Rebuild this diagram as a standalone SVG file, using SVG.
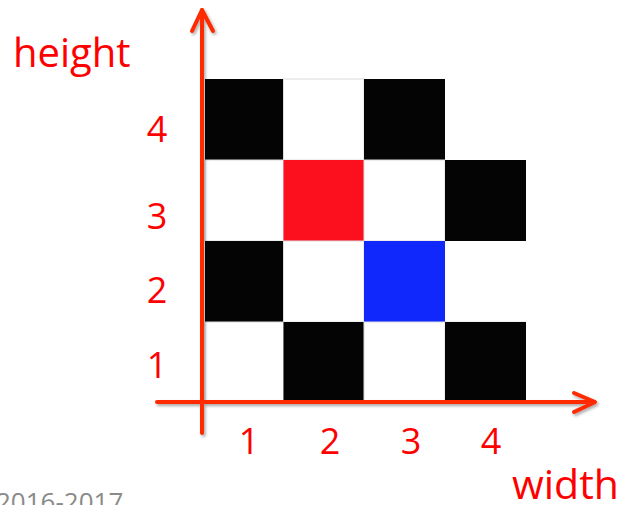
<svg xmlns="http://www.w3.org/2000/svg" width="621" height="505" viewBox="0 0 621 505">
  <style>
    .blk { fill: #040404; }
    .wht { fill: #ffffff; stroke: #dcdcdc; stroke-width: 1; }
    .lbl { font-family: "Open Sans", "Liberation Sans", sans-serif; fill: #ff0000; }
    .num { font-size: 36px; text-anchor: middle; }
    .axis { stroke: #ff2a00; stroke-width: 4; fill: none; stroke-linecap: round; stroke-linejoin: round; }
  </style>
  <defs>
    <filter id="sh" x="-10%" y="-10%" width="120%" height="120%">
      <feDropShadow dx="1.5" dy="2" stdDeviation="1.5" flood-color="#000" flood-opacity="0.35"/>
    </filter>
  </defs>
  <rect width="621" height="505" fill="#ffffff"/>

  <g id="grid">
    <!-- row 4 -->
    <rect class="blk" x="205" y="79" width="78.5" height="81"/>
    <rect class="wht" x="283.5" y="79" width="80.5" height="81"/>
    <rect class="blk" x="364" y="79" width="81" height="81"/>
    <!-- row 3 -->
    <rect class="wht" x="205" y="160" width="78.5" height="81"/>
    <rect x="283.5" y="160" width="80.5" height="81" fill="#fc101e"/>
    <rect class="wht" x="364" y="160" width="81" height="81"/>
    <rect class="blk" x="445" y="160" width="81" height="81"/>
    <!-- row 2 -->
    <rect class="blk" x="205" y="241" width="78.5" height="81"/>
    <rect class="wht" x="283.5" y="241" width="80.5" height="81"/>
    <rect x="364" y="241" width="81" height="81" fill="#1028fc"/>
    <path d="M445 322 H526" stroke="#dcdcdc" stroke-width="1"/>
    <!-- row 1 -->
    <rect class="wht" x="205" y="322" width="78.5" height="79"/>
    <rect class="blk" x="283.5" y="322" width="80.5" height="79"/>
    <rect class="wht" x="364" y="322" width="81" height="79"/>
    <rect class="blk" x="445" y="322" width="81" height="79"/>
  </g>

  <g id="axes" filter="url(#sh)">
    <path class="axis" d="M202 433 V10"/>
    <path class="axis" d="M192 31 L202 10 L213 31"/>
    <path class="axis" d="M157 402 H594"/>
    <path class="axis" d="M574 393 L595 402 L574 412"/>
  </g>

  <g id="labels">
    <text class="lbl" x="13" y="67" font-size="40">height</text>
    <text class="lbl" x="512" y="499" font-size="41">width</text>
    <text class="lbl num" x="157" y="142">4</text>
    <text class="lbl num" x="157" y="229">3</text>
    <text class="lbl num" x="157" y="303">2</text>
    <text class="lbl num" x="157" y="378">1</text>
    <text class="lbl num" x="249" y="454">1</text>
    <text class="lbl num" x="330" y="454">2</text>
    <text class="lbl num" x="411" y="454">3</text>
    <text class="lbl num" x="491" y="454">4</text>
    <text x="-4" y="511" font-family="'Open Sans', 'Liberation Sans', sans-serif" font-size="26" fill="#8a8a8a">2016-2017</text>
  </g>
</svg>
